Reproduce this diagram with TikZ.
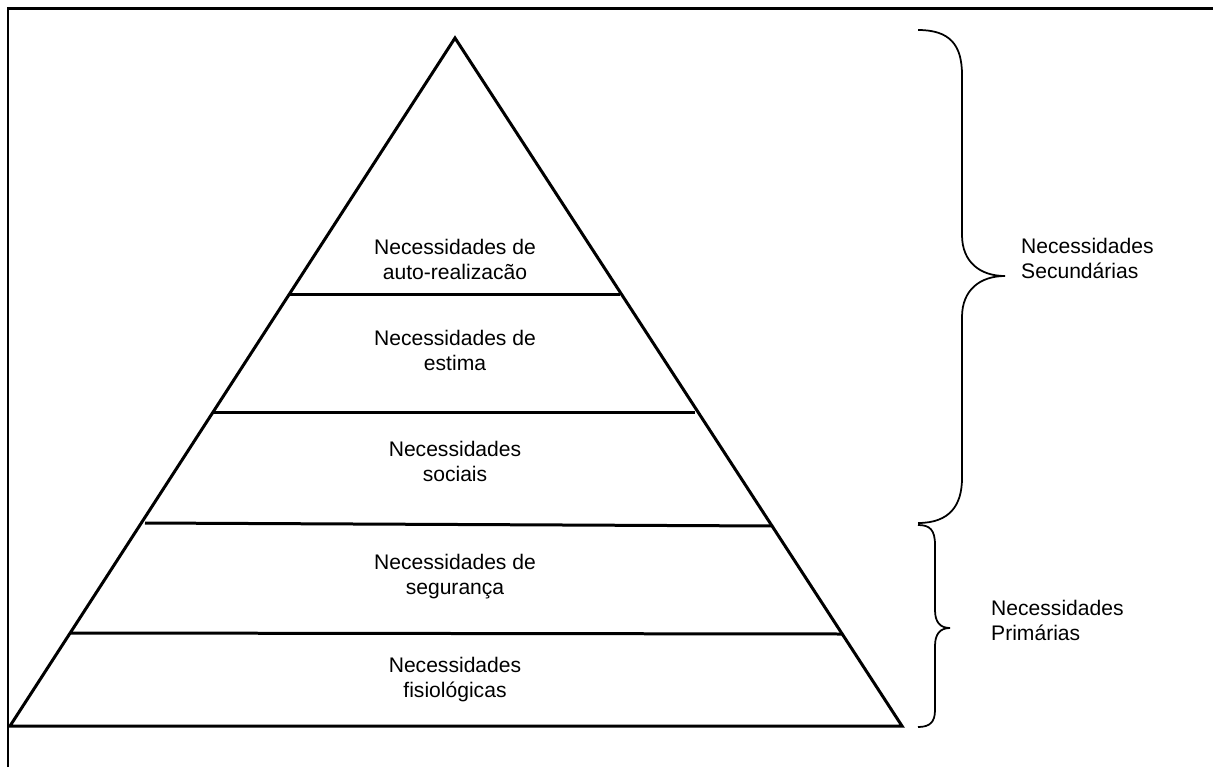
\documentclass[tikz,border=0pt]{standalone}
\usepackage{fontspec}
\setmainfont{Liberation Sans}
\usepackage{tikz}
\usetikzlibrary{calc,positioning}

\tikzset{
  level/.style={align=center, font=\fontsize{12}{14.2}\selectfont},
  group/.style={align=left, anchor=west, font=\fontsize{12}{14.2}\selectfont},
  thick line/.style={line width=0.06cm},
  brace line/.style={line width=0.035cm}
}

\begin{document}
\begin{tikzpicture}[x=0.02cm, y=-0.02cm]
        \useasboundingbox (0,0) rectangle (1213,767);

        % frame
        \draw[thick line] (8,767) -- (8,9) -- (1213,9);

        % pyramid
        \coordinate (base_left) at (10,726);
        \coordinate (apex) at (455,38);
        \coordinate (base_right) at (902,726);
        \draw[thick line, line join=miter] (base_left) -- (apex) -- (base_right) -- cycle;

        \draw[thick line] (290,294) -- (620,294);
        \draw[thick line] (212,412) -- (695,412);
        \draw[thick line] (145,523) -- (773,526);
        \draw[thick line] (71,633) -- (843,634);

        \node[level] (auto) at (455,259) {Necessidades de\\auto-realizacão};
        \node[level] (estima) at (455,350) {Necessidades de\\estima};
        \node[level] (sociais) at (455,461) {Necessidades\\sociais};
        \node[level] (seguranca) at (455,577) {Necessidades de\\segurança};
        \node[level] (fisio) at (455,680) {Necessidades\\fisiológicas};

        % braces
        \draw[brace line] (918,30) .. controls (950,30) and (962,45) .. (962,75)
            -- (962,235) .. controls (962,262) and (980,276) .. (1005,276)
            .. controls (980,276) and (962,290) .. (962,317)
            -- (962,478) .. controls (962,505) and (950,523) .. (918,523);
        \node[group] (secundarias) at (1015,258) {Necessidades\\Secundárias};

        \draw[brace line] (918,525) .. controls (930,525) and (935,530) .. (935,545)
            -- (935,610) .. controls (935,622) and (940,628) .. (950,628)
            .. controls (940,628) and (935,634) .. (935,646)
            -- (935,710) .. controls (935,722) and (930,727) .. (918,727);
        \node[group] (primarias) at (985,620) {Necessidades\\Primárias};

\end{tikzpicture}
\end{document}
